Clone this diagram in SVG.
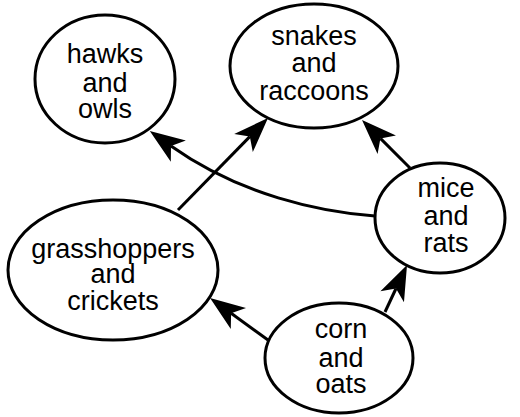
<svg xmlns="http://www.w3.org/2000/svg" width="520" height="417" viewBox="0 0 520 417">
<style>
.node ellipse{fill:#fff;stroke:#000;stroke-width:3}
.node text{font-family:"Liberation Sans",Arial,sans-serif;font-size:27px;fill:#000;text-anchor:middle}
.edge{fill:none;stroke:#000;stroke-width:3;marker-end:url(#arr)}
</style>
<defs>
<marker id="arr" markerUnits="userSpaceOnUse" viewBox="-10 -14 37 28" refX="0" refY="0" markerWidth="37" markerHeight="28" orient="auto">
<path d="M26,0 L-9,-13 L0,0 L-9,13 Z" fill="#000"/>
</marker>
</defs>
<rect width="520" height="417" fill="#fff"/>
<g id="connectors">
<path class="edge" d="M375,216 C320,212 240,195 171,146"/>
<path class="edge" d="M178,210 L249.8,136.6"/>
<path class="edge" d="M410,168 L380.4,138.4"/>
<path class="edge" d="M268,340 L231.1,313.3"/>
<path class="edge" d="M385,312 L396,288.5"/>
</g>
<g id="hawks" class="node">
<ellipse cx="105" cy="79" rx="70" ry="64"/>
<text x="105" y="63"><tspan x="105">hawks</tspan><tspan x="105" dy="29">and</tspan><tspan x="105" dy="26">owls</tspan></text>
</g>
<g id="snakes" class="node">
<ellipse cx="314" cy="66" rx="84" ry="62"/>
<text x="314" y="45"><tspan x="314">snakes</tspan><tspan x="314" dy="27">and</tspan><tspan x="314" dy="28">raccoons</tspan></text>
</g>
<g id="mice" class="node">
<ellipse cx="440" cy="218" rx="65" ry="55"/>
<text x="446" y="197"><tspan x="446">mice</tspan><tspan x="446" dy="28">and</tspan><tspan x="446" dy="27">rats</tspan></text>
</g>
<g id="grasshoppers" class="node">
<ellipse cx="113" cy="270" rx="105" ry="70"/>
<text x="113" y="258"><tspan x="113">grasshoppers</tspan><tspan x="113" dy="25">and</tspan><tspan x="113" dy="27">crickets</tspan></text>
</g>
<g id="corn" class="node">
<ellipse cx="339" cy="358" rx="74" ry="55"/>
<text x="341" y="338"><tspan x="341">corn</tspan><tspan x="341" dy="29">and</tspan><tspan x="341" dy="26">oats</tspan></text>
</g>
</svg>
